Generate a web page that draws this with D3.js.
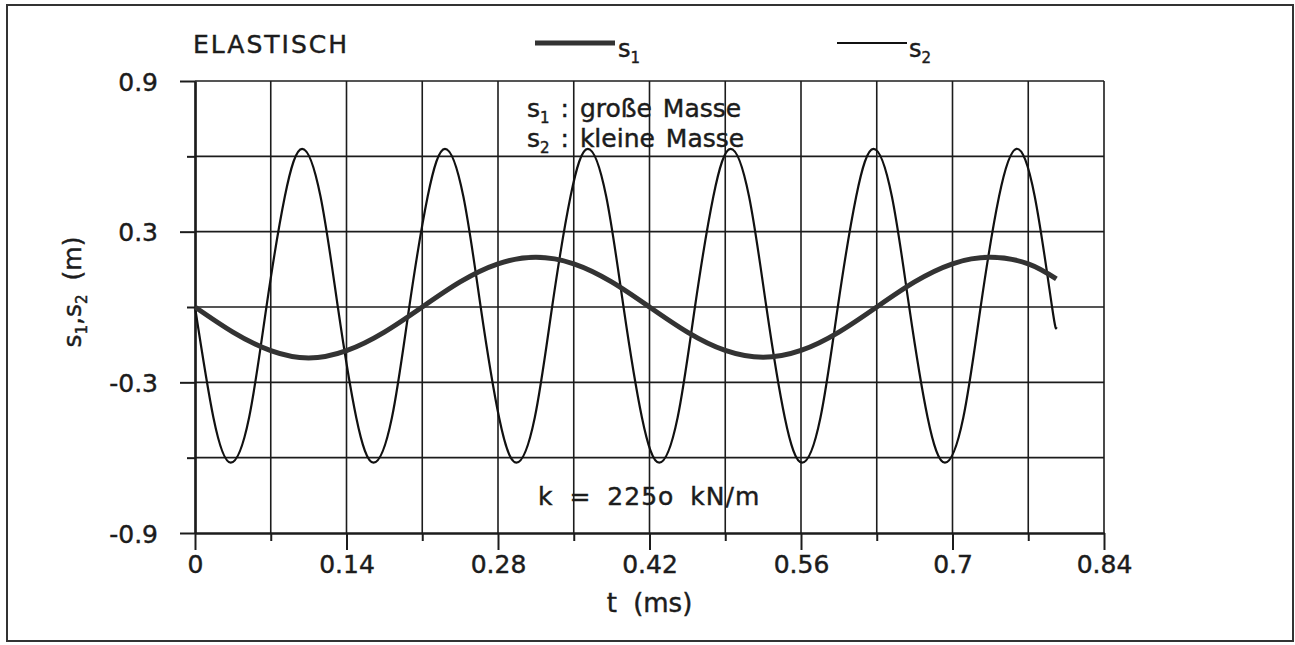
<!DOCTYPE html>
<html>
<head>
<meta charset="utf-8">
<script src="https://cdn.jsdelivr.net/npm/d3@7"></script>
<style>
  body { margin: 0; background: #fff; }
  svg { display: block; font-family: "DejaVu Sans", sans-serif; }
  text { stroke: #1c1c1c; stroke-width: 0.45px; }
</style>
</head>
<body>
<div id="chart-container"></div>
<script>
// Weg-Zeit-Verlauf (t in ms, s in m)
const s1Time = [0, 0.035, 0.07, 0.105, 0.14, 0.175, 0.21, 0.245, 0.28, 0.315, 0.35, 0.385,
    0.42, 0.455, 0.49, 0.525, 0.56, 0.595, 0.63, 0.665, 0.7, 0.735, 0.77, 0.796];
const s1Values = [0, -0.1, -0.174, -0.203, -0.174, -0.1, 0, 0.1, 0.172, 0.198, 0.172, 0.1,
    0, -0.1, -0.173, -0.2, -0.173, -0.1, 0, 0.1, 0.172, 0.198, 0.172, 0.112];

const s2Time = [0, 0.017, 0.033, 0.05, 0.066, 0.083, 0.099, 0.116, 0.132, 0.149, 0.165, 0.182,
    0.198, 0.215, 0.231, 0.248, 0.264, 0.281, 0.297, 0.314, 0.33, 0.347, 0.363, 0.38,
    0.396, 0.413, 0.429, 0.446, 0.462, 0.479, 0.495, 0.512, 0.528, 0.545, 0.561, 0.578,
    0.594, 0.611, 0.627, 0.644, 0.66, 0.677, 0.693, 0.71, 0.726, 0.743, 0.759, 0.776,
    0.792, 0.796];
const s2Values = [0, -0.44, -0.62, -0.44, 0, 0.44, 0.63, 0.44, 0, -0.44, -0.62, -0.44,
    0, 0.44, 0.63, 0.44, 0, -0.44, -0.62, -0.44, 0, 0.44, 0.63, 0.44,
    0, -0.44, -0.62, -0.44, 0, 0.44, 0.63, 0.44, 0, -0.44, -0.62, -0.44,
    0, 0.44, 0.63, 0.44, 0, -0.44, -0.62, -0.44, 0, 0.44, 0.63, 0.44,
    0, -0.08];

// Achsen
const xTicks = [0, 0.14, 0.28, 0.42, 0.56, 0.7, 0.84];
const xMinorTicks = [0.07, 0.21, 0.35, 0.49, 0.63, 0.77];
const xGrid = [0.07, 0.14, 0.21, 0.28, 0.35, 0.42, 0.49, 0.56, 0.63, 0.7, 0.77, 0.84];
const yTicks = [0.9, 0.3, -0.3, -0.9];
const yMinorTicks = [0.6, 0, -0.6];
const yGrid = [0.9, 0.6, 0.3, 0, -0.3, -0.6];

function initChart() {
    const totalWidth = 1295;
    const totalHeight = 645;
    const margin = { top: 81, right: 191, bottom: 112, left: 195 };
    const width = totalWidth - margin.left - margin.right;
    const height = totalHeight - margin.top - margin.bottom;
    const ink = '#1c1c1c';

    const root = d3.select('#chart-container').append('svg')
        .attr('width', totalWidth)
        .attr('height', totalHeight);

    // Rahmen um das ganze Bild
    root.append('rect')
        .attr('x', 7).attr('y', 5)
        .attr('width', 1286).attr('height', 636)
        .attr('fill', 'none')
        .attr('stroke', '#333')
        .attr('stroke-width', 2);

    const svg = root.append('g')
        .attr('transform', `translate(${margin.left},${margin.top})`);

    const x = d3.scaleLinear().domain([0, 0.84]).range([0, width]);
    const y = d3.scaleLinear().domain([-0.9, 0.9]).range([height, 0]);

    // Gitter
    svg.append('g').selectAll('line').data(xGrid).join('line')
        .attr('x1', d => x(d)).attr('x2', d => x(d))
        .attr('y1', 0).attr('y2', height)
        .attr('stroke', ink).attr('stroke-width', 1.6);
    svg.append('g').selectAll('line').data(yGrid).join('line')
        .attr('x1', 0).attr('x2', width)
        .attr('y1', d => y(d)).attr('y2', d => y(d))
        .attr('stroke', ink).attr('stroke-width', 1.6);

    // x-Achse
    const xAxis = svg.append('g')
        .attr('transform', `translate(0,${height})`)
        .call(d3.axisBottom(x).tickValues(xTicks).tickSize(17).tickSizeOuter(0).tickFormat(d => String(d)));
    svg.append('g')
        .attr('transform', `translate(0,${height})`)
        .call(d3.axisBottom(x).tickValues(xMinorTicks).tickSize(8).tickSizeOuter(0).tickFormat(''));

    // y-Achse
    const yAxis = svg.append('g')
        .call(d3.axisLeft(y).tickValues(yTicks).tickSize(15).tickSizeOuter(0).tickFormat(d => String(d)));
    svg.append('g')
        .call(d3.axisLeft(y).tickValues(yMinorTicks).tickSize(8).tickSizeOuter(0).tickFormat(''));

    svg.selectAll('.domain').attr('stroke', ink).attr('stroke-width', 2.2);
    svg.selectAll('.tick line').attr('stroke', ink).attr('stroke-width', 2);

    xAxis.selectAll('text')
        .attr('y', 40).attr('dy', 0)
        .attr('fill', ink)
        .style('font-size', '25px')
        .style('font-family', '"DejaVu Sans", sans-serif');
    yAxis.selectAll('text')
        .attr('x', -37).attr('dy', '0.36em')
        .attr('fill', ink)
        .style('font-size', '25px')
        .style('font-family', '"DejaVu Sans", sans-serif');

    // Kurven
    const s1Data = s1Time.map((t, i) => ({ t: t, s: s1Values[i] }));
    const s2Data = s2Time.map((t, i) => ({ t: t, s: s2Values[i] }));
    const line = d3.line().x(d => x(d.t)).y(d => y(d.s)).curve(d3.curveNatural);

    svg.append('path').datum(s2Data)
        .attr('d', line)
        .attr('fill', 'none')
        .attr('stroke', '#111')
        .attr('stroke-width', 2.2);
    svg.append('path').datum(s1Data)
        .attr('d', line)
        .attr('fill', 'none')
        .attr('stroke', '#333')
        .attr('stroke-width', 5);

    // Text mit Indizes (s1, s2)
    function subText(sel, parts) {
        let shift = 0;
        parts.forEach(p => {
            if (p.sub) {
                sel.append('tspan').attr('font-size', '15px').attr('dy', 6 - shift).text(p.sub);
                shift = 6;
            } else {
                sel.append('tspan').attr('dy', -shift).text(p.txt);
                shift = 0;
            }
        });
    }

    root.append('text')
        .attr('x', 193).attr('y', 53)
        .attr('fill', ink)
        .style('font-size', '25px')
        .style('letter-spacing', '2px')
        .text('ELASTISCH');

    // Legende
    root.append('line')
        .attr('x1', 535).attr('x2', 615).attr('y1', 43).attr('y2', 43)
        .attr('stroke', '#333').attr('stroke-width', 5);
    subText(root.append('text').attr('x', 618).attr('y', 57).attr('fill', ink).style('font-size', '24px'),
        [{ txt: 's' }, { sub: '1' }]);
    root.append('line')
        .attr('x1', 837).attr('x2', 907).attr('y1', 43).attr('y2', 43)
        .attr('stroke', '#111').attr('stroke-width', 2.2);
    subText(root.append('text').attr('x', 909).attr('y', 57).attr('fill', ink).style('font-size', '24px'),
        [{ txt: 's' }, { sub: '2' }]);

    subText(root.append('text').attr('x', 527).attr('y', 117).attr('fill', ink)
            .style('font-size', '25px').style('word-spacing', '3px'),
        [{ txt: 's' }, { sub: '1' }, { txt: ' : große Masse' }]);
    subText(root.append('text').attr('x', 527).attr('y', 147).attr('fill', ink)
            .style('font-size', '25px').style('word-spacing', '3px'),
        [{ txt: 's' }, { sub: '2' }, { txt: ' : kleine Masse' }]);

    root.append('text')
        .attr('x', 538).attr('y', 505)
        .attr('fill', ink)
        .style('font-size', '25px')
        .style('letter-spacing', '1px')
        .style('word-spacing', '7px')
        .text('k = 225o kN/m');

    // Achsentitel
    root.append('text')
        .attr('x', margin.left + x(0.42)).attr('y', 612)
        .attr('text-anchor', 'middle')
        .attr('fill', ink)
        .style('font-size', '26px')
        .style('word-spacing', '8px')
        .text('t (ms)');

    const yTitle = root.append('text')
        .attr('transform', 'translate(81,292) rotate(-90)')
        .attr('text-anchor', 'middle')
        .attr('fill', ink)
        .style('font-size', '25px')
        .style('word-spacing', '6px');
    subText(yTitle, [{ txt: 's' }, { sub: '1' }, { txt: ',s' }, { sub: '2' }, { txt: ' (m)' }]);
}

initChart();
</script>
</body>
</html>
